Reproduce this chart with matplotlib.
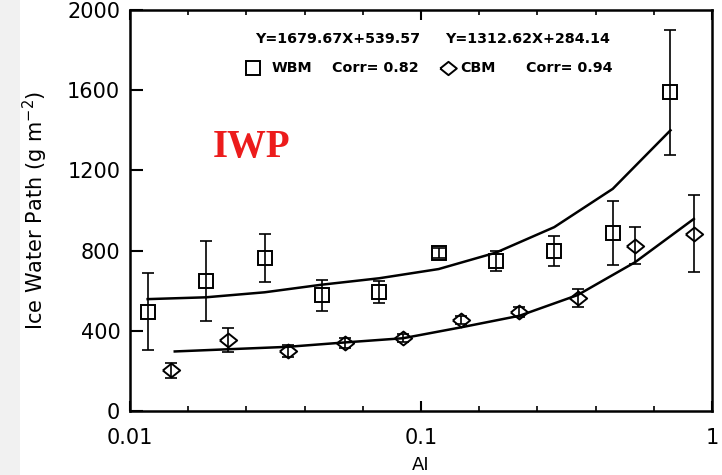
import numpy as np
import matplotlib
matplotlib.use("Agg")
import matplotlib.pyplot as plt
from matplotlib.ticker import FixedLocator, NullFormatter
from matplotlib.patches import Rectangle

# =========================
# DATA
# =========================
wbm_x = [0.0115, 0.0182, 0.029, 0.0456, 0.0718, 0.115, 0.181, 0.287, 0.456, 0.72]
wbm_y = [495, 648, 764, 577, 595, 787, 750, 798, 887, 1589]
wbm_err = [192, 201, 119, 77, 54, 25, 50, 77, 160, 311]

cbm_x = [0.0138, 0.0218, 0.0348, 0.0548, 0.0868, 0.137, 0.218, 0.345, 0.544, 0.866]
cbm_y = [204, 352, 300, 337, 362, 453, 495, 565, 825, 884]
cbm_err = [37, 60, 30, 25, 20, 20, 25, 45, 92, 192]

fit_wbm_x = [0.0115, 0.0182, 0.029, 0.0456, 0.0718, 0.115, 0.181, 0.287, 0.456, 0.72]
fit_wbm_y = [558, 567, 592, 630, 662, 708, 790, 917, 1108, 1400]

fit_cbm_x = [0.01425, 0.0218, 0.0348, 0.0548, 0.0868, 0.137, 0.218, 0.345, 0.544, 0.866]
fit_cbm_y = [297, 308, 320, 342, 363, 417, 475, 578, 742, 958]

wbm_eq = "Y=1679.67X+539.57"
cbm_eq = "Y=1312.62X+284.14"
wbm_corr = "Corr= 0.82"
cbm_corr = "Corr= 0.94"

x_major = [0.01, 0.1, 1]
x_labels = ["0.01", "0.1", "1"]
y_ticks = [0, 400, 800, 1200, 1600, 2000]

# slightly flattened diamond, like the original plot symbol
diamond = [(-1, 0), (0, 0.8), (1, 0), (0, -0.8), (-1, 0)]

# =========================
# FIGURE
# =========================
fig = plt.figure(figsize=(7.22, 4.75), dpi=100)
fig.patches.append(Rectangle((0, 0), 20 / 722, 1, transform=fig.transFigure,
                             facecolor="#f1f1f1", edgecolor="none", zorder=0))
ax = fig.add_axes([130 / 722, 1 - 411 / 475, 582 / 722, 401 / 475])

err_kw = dict(fmt="none", ecolor="black", elinewidth=1.2, capsize=4, capthick=1.2)
ax.errorbar(wbm_x, wbm_y, yerr=wbm_err, **err_kw)
ax.errorbar(cbm_x, cbm_y, yerr=cbm_err, **err_kw)
ax.plot(wbm_x, wbm_y, ls="none", marker="s", ms=10.5, mfc="none", mec="black", mew=1.4)
ax.plot(cbm_x, cbm_y, ls="none", marker=diamond, ms=12.5, mfc="none", mec="black", mew=1.4)
ax.plot(fit_wbm_x, fit_wbm_y, color="black", lw=1.8)
ax.plot(fit_cbm_x, fit_cbm_y, color="black", lw=1.8)

ax.set_xscale("log")
ax.set_xlim(0.01, 1)
ax.set_ylim(0, 2000)

ax.xaxis.set_major_locator(FixedLocator(x_major))
ax.set_xticklabels(x_labels)
minor = [10 ** (d + k / 5) for d in (-2, -1) for k in (1, 2, 3, 4)]
ax.xaxis.set_minor_locator(FixedLocator(minor))
ax.xaxis.set_minor_formatter(NullFormatter())
ax.set_yticks(y_ticks)
ax.set_yticklabels([str(v) for v in y_ticks])

ax.tick_params(axis="x", which="major", direction="in", length=7, width=1.5,
               top=True, labelsize=15, pad=12)
ax.tick_params(axis="x", which="minor", direction="in", length=3.5, width=1.2, top=True)
ax.tick_params(axis="y", which="major", direction="in", length=9, width=1.5,
               right=False, labelsize=15, pad=7)
ax.tick_params(axis="y", which="minor", left=False, right=False)
for s in ax.spines.values():
    s.set_linewidth(1.8)

ax.set_xlabel("AI", fontsize=13, labelpad=6)
ax.set_ylabel("Ice Water Path (g m$^{-2}$)", fontsize=15, labelpad=12)

# legend-like header
txt = dict(fontsize=10.3, fontweight="bold", va="center", ha="left", transform=fig.transFigure)
fig.text(255 / 722, 1 - 39 / 475, wbm_eq, **txt)
fig.text(445 / 722, 1 - 39 / 475, cbm_eq, **txt)
fig.text(272 / 722, 1 - 68 / 475, "WBM", **txt)
fig.text(332 / 722, 1 - 68 / 475, wbm_corr, **txt)
fig.text(460 / 722, 1 - 68 / 475, "CBM", **txt)
fig.text(526 / 722, 1 - 68 / 475, cbm_corr, **txt)
fig.lines.append(plt.Line2D([253 / 722], [1 - 68 / 475], transform=fig.transFigure,
                            marker="s", ms=10, mfc="none", mec="black", mew=1.4, ls="none"))
fig.lines.append(plt.Line2D([448 / 722], [1 - 68 / 475], transform=fig.transFigure,
                            marker=diamond, ms=12, mfc="none", mec="black", mew=1.4, ls="none"))

fig.text(252 / 722, 1 - 148 / 475, "IWP", fontsize=28, fontweight="bold",
         family="Liberation Serif", color="#ec1c1c", ha="center", va="center")

fig.savefig("out.png", dpi=100)
